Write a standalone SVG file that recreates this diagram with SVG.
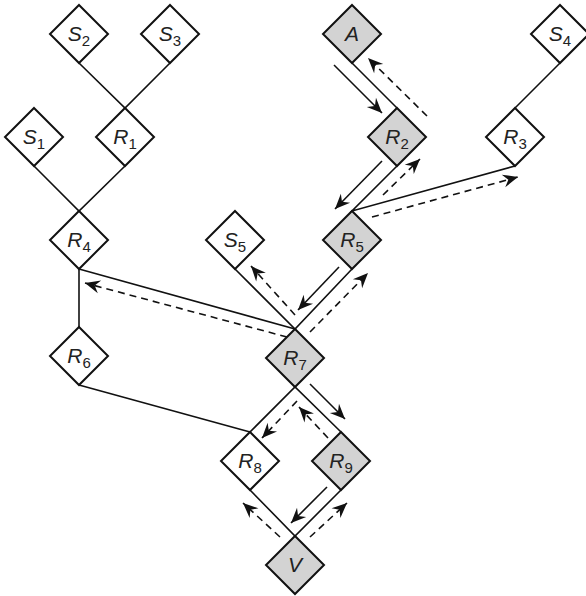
<svg xmlns="http://www.w3.org/2000/svg" width="586" height="596" viewBox="0 0 586 596">
<defs>
<style>
.c{stroke:#111;stroke-width:1.6;fill:none}
.a{stroke:#111;stroke-width:1.6;fill:none;marker-end:url(#ah)}
.d{stroke:#111;stroke-width:1.6;fill:none;stroke-dasharray:7 5;marker-end:url(#ah)}
.n{stroke:#111;stroke-width:2;fill:#fff}
.g{stroke:#111;stroke-width:2;fill:#d3d3d3}
.t{font-family:"Liberation Sans",Arial,sans-serif;font-size:21px;font-style:italic;fill:#222;text-anchor:middle}
.s{font-size:15px;font-style:normal}
</style>
<marker id="ah" markerUnits="userSpaceOnUse" markerWidth="18" markerHeight="16" viewBox="-16 -8 18 16" refX="0" refY="0" orient="auto">
<path d="M0,0 L-15,-6.5 L-10,0 L-15,6.5 Z" fill="#111"/>
</marker>
<path id="dm" d="M0,-29 L29,0 L0,29 L-29,0 Z"/>
</defs>
<g id="connectors">
<path class="c" d="M79,63 L125,108 L170,63"/>
<path class="c" d="M34,166 L79,211 L125,166"/>
<path class="c" d="M79,269 L79,327"/>
<path class="c" d="M79,269 L295,329"/>
<path class="c" d="M352,63 L397,108"/>
<path class="c" d="M560,63 L515,108"/>
<path class="c" d="M397,166 L352,211 L515,166"/>
<path class="c" d="M235,269 L295,329 L352,269"/>
<path class="c" d="M79,385 L250,432"/>
<path class="c" d="M250,432 L295,387 L341,432"/>
<path class="c" d="M250,490 L295,536 L341,490"/>
<path class="a" d="M334,65 L382,113"/>
<path class="d" d="M427,116 L368,58"/>
<path class="a" d="M382,161 L335,209"/>
<path class="d" d="M383,195 L420,159"/>
<path class="d" d="M372,217 L518,177"/>
<path class="a" d="M339,267 L298,310"/>
<path class="d" d="M295,315 L251,266"/>
<path class="d" d="M310,332 L368,273"/>
<path class="d" d="M287,337 L85,283"/>
<path class="a" d="M310,384 L345,419"/>
<path class="d" d="M328,438 L299,407"/>
<path class="d" d="M297,401 L262,438"/>
<path class="a" d="M327,487 L291,523"/>
<path class="d" d="M280,537 L243,503"/>
<path class="d" d="M310,537 L347,503"/>
</g>
<g id="S2"><use href="#dm" class="n" x="79" y="34"/><text class="t" x="79" y="41">S<tspan class="s" dy="5">2</tspan></text></g>
<g id="S3"><use href="#dm" class="n" x="170" y="34"/><text class="t" x="170" y="41">S<tspan class="s" dy="5">3</tspan></text></g>
<g id="A"><use href="#dm" class="g" x="352" y="34"/><text class="t" x="352" y="41">A</text></g>
<g id="S4"><use href="#dm" class="n" x="560" y="34"/><text class="t" x="560" y="41">S<tspan class="s" dy="5">4</tspan></text></g>
<g id="S1"><use href="#dm" class="n" x="34" y="137"/><text class="t" x="34" y="144">S<tspan class="s" dy="5">1</tspan></text></g>
<g id="R1"><use href="#dm" class="n" x="125" y="137"/><text class="t" x="125" y="144">R<tspan class="s" dy="5">1</tspan></text></g>
<g id="R2"><use href="#dm" class="g" x="397" y="137"/><text class="t" x="397" y="144">R<tspan class="s" dy="5">2</tspan></text></g>
<g id="R3"><use href="#dm" class="n" x="515" y="137"/><text class="t" x="515" y="144">R<tspan class="s" dy="5">3</tspan></text></g>
<g id="R4"><use href="#dm" class="n" x="79" y="240"/><text class="t" x="79" y="247">R<tspan class="s" dy="5">4</tspan></text></g>
<g id="S5"><use href="#dm" class="n" x="235" y="240"/><text class="t" x="235" y="247">S<tspan class="s" dy="5">5</tspan></text></g>
<g id="R5"><use href="#dm" class="g" x="352" y="240"/><text class="t" x="352" y="247">R<tspan class="s" dy="5">5</tspan></text></g>
<g id="R6"><use href="#dm" class="n" x="79" y="356"/><text class="t" x="79" y="363">R<tspan class="s" dy="5">6</tspan></text></g>
<g id="R7"><use href="#dm" class="g" x="295" y="358"/><text class="t" x="295" y="365">R<tspan class="s" dy="5">7</tspan></text></g>
<g id="R8"><use href="#dm" class="n" x="250" y="461"/><text class="t" x="250" y="468">R<tspan class="s" dy="5">8</tspan></text></g>
<g id="R9"><use href="#dm" class="g" x="341" y="461"/><text class="t" x="341" y="468">R<tspan class="s" dy="5">9</tspan></text></g>
<g id="V"><use href="#dm" class="g" x="295" y="565"/><text class="t" x="295" y="572">V</text></g>
</svg>
